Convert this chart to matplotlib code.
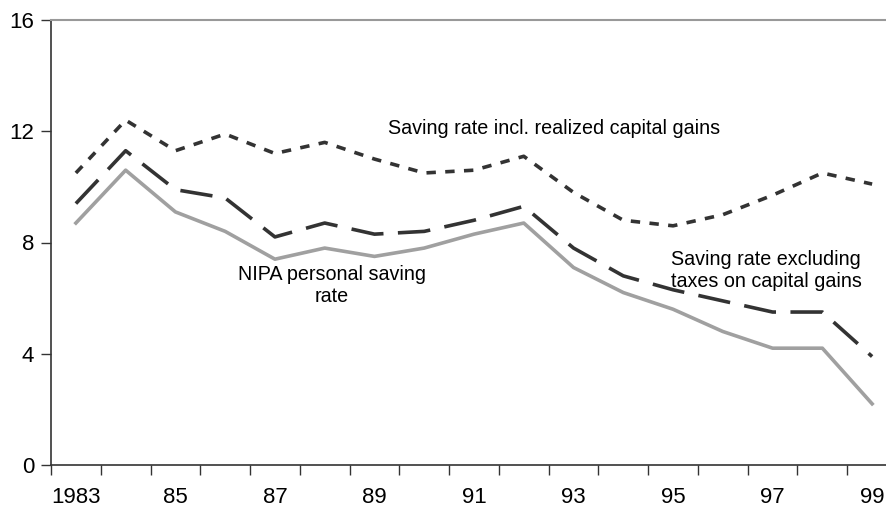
import numpy as np
import matplotlib.pyplot as plt
from matplotlib.ticker import FixedLocator

plt.rcParams['font.family'] = ['Liberation Sans', 'DejaVu Sans']

years = list(range(1983, 2000))
year_labels = ['1983', '', '85', '', '87', '', '89', '', '91', '', '93', '', '95', '', '97', '', '99']

# saving rates, percent
incl_gains = [10.5, 12.4, 11.3, 11.9, 11.2, 11.6, 11.0, 10.5, 10.6, 11.1,
              9.8, 8.8, 8.6, 9.0, 9.7, 10.5, 10.1]
excl_taxes = [9.4, 11.3, 9.9, 9.6, 8.2, 8.7, 8.3, 8.4, 8.8, 9.3,
              7.8, 6.8, 6.3, 5.9, 5.5, 5.5, 3.9]
nipa = [8.7, 10.6, 9.1, 8.4, 7.4, 7.8, 7.5, 7.8, 8.3, 8.7,
        7.1, 6.2, 5.6, 4.8, 4.2, 4.2, 2.2]

fig = plt.figure(figsize=(8.87, 5.09), dpi=100)
ax = fig.add_axes([51/887, 44/509, 846/887, 445/509])

x = np.arange(len(years))
ax.plot(x, incl_gains, color='#333333', lw=2.6, dashes=(2.6, 2.6))
ax.plot(x, excl_taxes, color='#333333', lw=2.6, dashes=(9, 4))
ax.plot(x, nipa, color='#a0a0a0', lw=2.6)

ax.set_xlim(-0.5, len(years) - 0.5)
ax.set_ylim(0, 16)
ax.set_yticks([0, 4, 8, 12, 16])

# tick marks between categories, labels at category centres
ax.xaxis.set_major_locator(FixedLocator(np.arange(-0.5, len(years), 1.0)))
ax.xaxis.set_minor_locator(FixedLocator(x))
ax.set_xticklabels([])
ax.set_xticklabels(year_labels, minor=True)
ax.tick_params(axis='x', which='major', direction='out', length=7, width=1, color='#333333')
ax.tick_params(axis='x', which='minor', length=0, pad=16, labelsize=16)
ax.tick_params(axis='y', direction='out', length=7, width=1, color='#333333', labelsize=16, pad=5)

for s in ['left', 'bottom']:
    ax.spines[s].set_color('#333333')
    ax.spines[s].set_linewidth(1.2)
ax.spines['top'].set_color('#999999')
ax.spines['top'].set_linewidth(1.5)
ax.spines['right'].set_visible(False)

ax.text(6.28, 12.1, 'Saving rate incl. realized capital gains', fontsize=14.2,
        ha='left', va='center')
ax.text(5.15, 6.45, 'NIPA personal saving\nrate', fontsize=14.2,
        ha='center', va='center', linespacing=1.2)
ax.text(11.95, 7.0, 'Saving rate excluding\ntaxes on capital gains', fontsize=14.2,
        ha='left', va='center', linespacing=1.2)

fig.savefig('out.png', dpi=100)
